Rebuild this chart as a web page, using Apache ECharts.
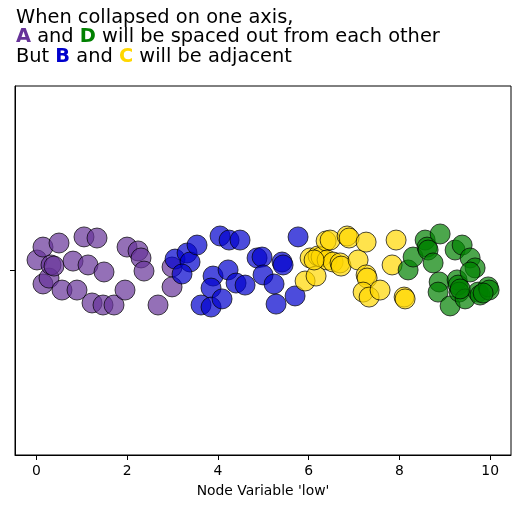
<!DOCTYPE html>
<html>
<head>
<meta charset="utf-8">
<script src="https://cdn.jsdelivr.net/npm/echarts@6/dist/echarts.min.js"></script>
<style>
  html, body { margin: 0; padding: 0; background: #fff; }
  #chart { width: 520px; height: 509px; }
</style>
</head>
<body>
<div id="chart"></div>
<script>
// group A (purple)
const aX = [0.011, 0.143, 0.143, 0.276, 0.320, 0.386, 0.496, 0.562, 0.805, 0.893, 1.047, 1.136, 1.224,
            1.334, 1.488, 1.466, 1.709, 1.951, 1.996, 2.238, 2.304, 2.370, 2.679, 2.988, 2.988];
const aY = [0.057, 0.127, -0.073, -0.041, 0.030, 0.024, 0.149, -0.106, 0.051, -0.106, 0.182, 0.030, -0.176,
            0.176, -0.008, -0.187, -0.187, -0.106, 0.127, 0.106, 0.068, -0.003, -0.187, 0.019, -0.089];
// group B (blue)
const bX = [3.054, 3.319, 3.385, 3.208, 3.539, 4.046, 4.245, 4.487, 3.892, 3.848, 3.627, 3.848, 4.090,
            4.223, 4.399, 4.598, 4.862, 4.972, 4.994, 5.237, 5.281, 5.413, 5.436, 5.700, 5.766];
const bY = [0.062, 0.095, 0.046, -0.019, 0.138, 0.187, 0.165, 0.165, -0.030, -0.095, -0.187, -0.198, -0.154,
            0.003, -0.068, -0.079, 0.068, 0.073, -0.024, -0.073, -0.182, 0.046, 0.030, -0.138, 0.182];
// group C (gold)
const cX = [5.921, 6.031, 6.163, 6.207, 6.273, 6.384, 6.472, 6.406, 6.538, 6.692, 6.714, 6.847, 6.891,
            7.089, 7.266, 7.266, 7.288, 7.200, 7.332, 7.574, 7.839, 7.927, 8.104, 8.126, 6.119];
const cY = [-0.057, 0.068, -0.030, 0.079, 0.073, 0.160, 0.165, 0.057, 0.046, 0.041, 0.024, 0.187, 0.176,
            0.057, 0.154, -0.024, -0.041, -0.117, -0.144, -0.106, 0.030, 0.165, -0.144, -0.154, 0.057];
// group D (green)
const dX = [8.192, 8.302, 8.567, 8.611, 8.633, 8.743, 8.898, 8.876, 8.853, 9.118, 9.228, 9.383, 9.559,
            9.669, 9.272, 9.295, 9.317, 9.449, 9.735, 9.779, 9.956, 9.978, 9.559, 9.339, 9.846];
const dY = [0.003, 0.073, 0.165, 0.127, 0.111, 0.041, 0.198, -0.062, -0.117, -0.192, 0.111, 0.138, 0.068,
            0.014, -0.051, -0.079, -0.117, -0.154, -0.117, -0.133, -0.089, -0.106, -0.008, -0.100, -0.122];

const xTicks = [0, 2, 4, 6, 8, 10];
const yTicks = [0];

const FONT = 'DejaVu Sans';
const TITLE_SIZE = 19.4;
const TITLE_LH = 19.5;

function pairs(xs, ys) {
  return xs.map((x, i) => [x, ys[i]]);
}

function group(name, xs, ys, color) {
  return {
    name: name,
    type: 'scatter',
    data: pairs(xs, ys),
    symbolSize: 20,
    itemStyle: {
      color: color,
      borderColor: '#000',
      borderWidth: 1,
      opacity: 0.7
    },
    emphasis: { disabled: true }
  };
}

function span(color, weight) {
  return { color: color, fontWeight: weight, fontFamily: FONT, fontSize: TITLE_SIZE, lineHeight: TITLE_LH };
}

const chart = echarts.init(document.getElementById('chart'));
chart.setOption({
  animation: false,
  title: {
    left: 16,
    top: 8,
    padding: 0,
    text: '{n|When collapsed on one axis,}\n' +
          '{a|A}{n| and }{d|D}{n| will be spaced out from each other}\n' +
          '{n|But }{b|B}{n| and }{c|C}{n| will be adjacent}',
    textStyle: {
      fontFamily: FONT,
      fontSize: TITLE_SIZE,
      fontWeight: 'normal',
      color: '#000',
      lineHeight: TITLE_LH,
      rich: {
        n: span('#000', 'normal'),
        a: span('#663399', 'bold'),
        d: span('#008000', 'bold'),
        b: span('#0000cd', 'bold'),
        c: span('#ffd700', 'bold')
      }
    }
  },
  grid: {
    left: 15,
    right: 9,
    top: 86,
    bottom: 54,
    show: true,
    borderColor: '#000',
    borderWidth: 1,
    backgroundColor: 'transparent'
  },
  xAxis: {
    type: 'value',
    min: -0.474,
    max: 10.46,
    name: "Node Variable 'low'",
    nameLocation: 'middle',
    nameGap: 29,
    nameTextStyle: { fontFamily: FONT, fontSize: 13.9, color: '#000' },
    axisLine: { show: true, onZero: false, lineStyle: { color: '#000', width: 1 } },
    axisTick: { show: true, length: 5, inside: false, lineStyle: { color: '#000' }, customValues: xTicks },
    axisLabel: { fontFamily: FONT, fontSize: 13.9, color: '#000', margin: 9, customValues: xTicks },
    splitLine: { show: false }
  },
  yAxis: {
    type: 'value',
    min: -1,
    max: 1,
    axisLine: { show: true, onZero: false, lineStyle: { color: '#000', width: 1 } },
    axisTick: { show: true, length: 5, inside: false, lineStyle: { color: '#000' }, customValues: yTicks },
    axisLabel: { show: false },
    splitLine: { show: false }
  },
  series: [
    group('A', aX, aY, '#663399'),
    group('B', bX, bY, '#0000cd'),
    group('C', cX, cY, '#ffd700'),
    group('D', dX, dY, '#008000')
  ]
});
</script>
</body>
</html>
